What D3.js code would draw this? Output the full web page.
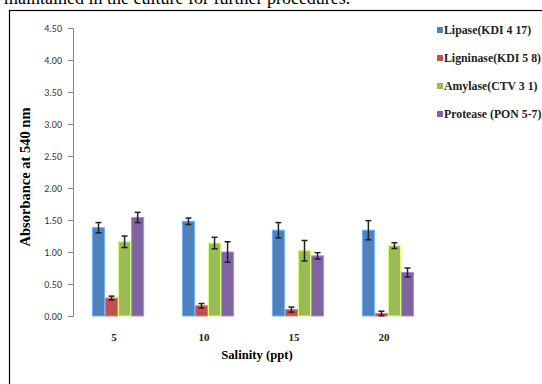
<!DOCTYPE html>
<html>
<head>
<meta charset="utf-8">
<script src="https://cdn.jsdelivr.net/npm/d3@7"></script>
<style>
  body { margin: 0; background: #fff; }
  svg { display: block; }
</style>
</head>
<body>
<script>
// data
var salinity = ["5", "10", "15", "20"];
var seriesNames = ["Lipase(KDI 4 17)", "Ligninase(KDI 5 8)", "Amylase(CTV 3 1)", "Protease (PON 5-7)"];
var lipase    = [1.38, 1.48, 1.34, 1.34];
var ligninase = [0.28, 0.16, 0.10, 0.04];
var amylase   = [1.16, 1.14, 1.02, 1.10];
var protease  = [1.54, 1.00, 0.94, 0.68];
var lipaseErr    = [0.08, 0.05, 0.12, 0.15];
var ligninaseErr = [0.03, 0.035, 0.04, 0.035];
var amylaseErr   = [0.09, 0.09, 0.16, 0.045];
var proteaseErr  = [0.08, 0.16, 0.05, 0.07];
var yTicks = [0, 0.5, 1, 1.5, 2, 2.5, 3, 3.5, 4, 4.5];

var colors = ["#4f81bd", "#c0504d", "#9bbb59", "#8064a2"];
var values = [lipase, ligninase, amylase, protease];
var errs = [lipaseErr, ligninaseErr, amylaseErr, proteaseErr];

var width = 542, height = 384;

var svg = d3.select("body").append("svg")
  .attr("width", width)
  .attr("height", height);

// text above the figure (cut off in the page)
svg.append("text")
  .attr("x", 4).attr("y", 4)
  .style("font-family", "'Liberation Serif', 'Times New Roman', serif")
  .style("font-size", "18px")
  .text("maintained in the culture for further procedures.");

// outer frame
svg.append("rect")
  .attr("x", 9.5).attr("y", 10.5)
  .attr("width", 600).attr("height", 400)
  .attr("fill", "none").attr("stroke", "#000").attr("stroke-width", 1.2);

var y = d3.scaleLinear().domain([0, 4.5]).range([316, 28]);
var x0 = d3.scaleBand().domain(salinity).range([73, 433]).paddingInner(0.42).paddingOuter(0.211);
var x1 = d3.scaleBand().domain(d3.range(4)).range([0, x0.bandwidth()]);

// y axis
var yAxis = svg.append("g")
  .attr("transform", "translate(73,0)")
  .call(d3.axisLeft(y).tickValues(yTicks).tickSize(5).tickPadding(6).tickFormat(d3.format(".2f")));
yAxis.select(".domain").attr("stroke", "#888");
yAxis.selectAll(".tick line").attr("stroke", "#888");
yAxis.selectAll("text")
  .style("font-family", "Carlito, 'Liberation Sans', Arial, sans-serif")
  .style("font-size", "10px")
  .attr("fill", "#333");

// bars
var groups = svg.selectAll(".grp")
  .data(salinity)
  .enter().append("g")
  .attr("class", "grp")
  .attr("transform", function (d) { return "translate(" + x0(d) + ",0)"; });

groups.each(function (d, gi) {
  var g = d3.select(this);
  for (var s = 0; s < 4; s++) {
    var v = values[s][gi], e = errs[s][gi];
    var bx = x1(s), bw = x1.bandwidth();
    g.append("rect")
      .attr("x", bx + 0.5)
      .attr("y", y(v))
      .attr("width", bw - 1)
      .attr("height", y(0) - y(v))
      .attr("fill", colors[s])
      .attr("stroke", d3.color(colors[s]).brighter(0.9))
      .attr("stroke-width", 1);
    var cx = bx + bw / 2;
    g.append("line")
      .attr("x1", cx).attr("x2", cx)
      .attr("y1", y(v + e)).attr("y2", y(Math.max(0, v - e)))
      .attr("stroke", "#222").attr("stroke-width", 1.5);
    [v + e, Math.max(0, v - e)].forEach(function (t) {
      g.append("line")
        .attr("x1", cx - 3).attr("x2", cx + 3)
        .attr("y1", y(t)).attr("y2", y(t))
        .attr("stroke", "#222").attr("stroke-width", 1.5);
    });
  }
});

// x labels
svg.selectAll(".xlab")
  .data(salinity)
  .enter().append("text")
  .attr("class", "xlab")
  .attr("x", function (d) { return x0(d) + x0.bandwidth() / 2 - 4; })
  .attr("y", 341)
  .attr("text-anchor", "middle")
  .style("font-family", "'Liberation Serif', 'Times New Roman', serif")
  .style("font-weight", "bold")
  .style("font-size", "11px")
  .attr("fill", "#222")
  .text(function (d) { return d; });

// axis titles
svg.append("text")
  .attr("x", 257).attr("y", 359)
  .attr("text-anchor", "middle")
  .style("font-family", "'Liberation Serif', 'Times New Roman', serif")
  .style("font-weight", "bold")
  .style("font-size", "12.7px")
  .text("Salinity (ppt)");

svg.append("text")
  .attr("transform", "translate(30,177) rotate(-90)")
  .attr("text-anchor", "middle")
  .style("font-family", "'Liberation Serif', 'Times New Roman', serif")
  .style("font-weight", "bold")
  .style("font-size", "14.5px")
  .text("Absorbance at 540 nm");

// legend
var legend = svg.selectAll(".leg")
  .data(seriesNames)
  .enter().append("g")
  .attr("class", "leg")
  .attr("transform", function (d, i) { return "translate(437," + (30 + i * 28) + ")"; });
legend.append("rect")
  .attr("x", 0).attr("y", -3)
  .attr("width", 6).attr("height", 6)
  .attr("fill", function (d, i) { return colors[i]; });
legend.append("text")
  .attr("x", 7).attr("y", 4)
  .style("font-family", "'Liberation Serif', 'Times New Roman', serif")
  .style("font-weight", "bold")
  .style("font-size", "11.8px")
  .attr("fill", "#222")
  .text(function (d) { return d; });
</script>
</body>
</html>
